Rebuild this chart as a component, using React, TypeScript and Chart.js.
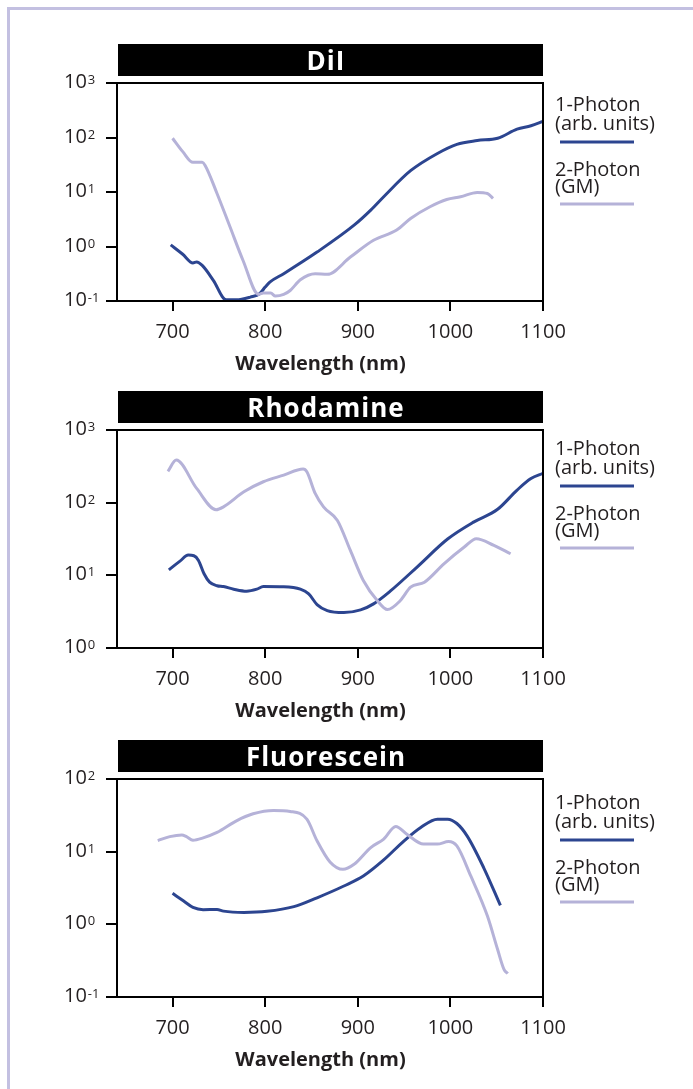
import React, { useEffect, useRef } from "react";
import { Chart, registerables } from "chart.js";

Chart.register(...registerables);

// ---- data ----
const xTicks = [700, 800, 900, 1000, 1100];

const dilOneWl = [698, 711, 722, 726, 732, 744, 758, 769, 784, 794, 800, 805, 820, 856, 896, 914, 928, 957, 986, 1007, 1029, 1051, 1072, 1087, 1100];
const dilOneVal = [1.07, 0.72, 0.5, 0.52, 0.45, 0.24, 0.105, 0.105, 0.118, 0.136, 0.18, 0.222, 0.317, 0.79, 2.46, 4.65, 8.2, 24.6, 51, 75, 88, 97, 142, 164, 197];
const dilTwoWl = [700, 711, 722, 732, 735, 748, 762, 776, 793, 798, 806, 811, 820, 827, 838, 854, 867, 892, 917, 942, 957, 978, 996, 1011, 1029, 1040, 1046];
const dilTwoVal = [97, 55, 35, 35, 31, 9.4, 2.3, 0.56, 0.132, 0.14, 0.14, 0.123, 0.132, 0.156, 0.245, 0.316, 0.308, 0.64, 1.3, 2.0, 3.27, 5.36, 7.3, 8.2, 9.84, 9.4, 7.6];
const dilDecades = [0.1, 1, 10, 100, 1000];

const rhoOneWl = [696, 708, 717, 723, 728, 734, 740, 748, 755, 766, 780, 791, 798, 820, 838, 847, 856, 867, 885, 903, 917, 935, 964, 997, 1025, 1051, 1072, 1087, 1100];
const rhoOneVal = [11.9, 15.7, 19, 18.6, 16, 10.5, 8.05, 7.2, 7.0, 6.45, 6.05, 6.45, 7.0, 6.95, 6.45, 5.56, 3.96, 3.27, 3.07, 3.34, 4.05, 6.05, 13, 31.6, 54, 81, 149, 215, 253];
const rhoTwoWl = [695, 704, 726, 747, 755, 777, 798, 820, 841, 845, 854, 863, 878, 892, 906, 921, 932, 946, 957, 972, 993, 1015, 1028, 1047, 1065];
const rhoTwoVal = [269, 385, 157, 80, 87.6, 141, 194, 239, 290, 266, 134, 87.5, 57, 22, 8.5, 4.5, 3.38, 4.5, 6.87, 8.05, 14.4, 24.5, 31.9, 25.8, 19.8];
const rhoDecades = [1, 10, 100, 1000];

const fluOneWl = [700, 712, 722, 733, 748, 755, 777, 802, 831, 856, 885, 906, 928, 950, 968, 986, 997, 1007, 1018, 1036, 1054];
const fluOneVal = [2.67, 2.09, 1.71, 1.59, 1.6, 1.52, 1.46, 1.51, 1.75, 2.32, 3.37, 4.62, 7.69, 14.1, 21.5, 28, 28, 24.4, 16.5, 6.0, 1.82];
const fluTwoWl = [684, 697, 710, 715, 722, 733, 748, 769, 787, 809, 827, 845, 856, 870, 884, 896, 914, 928, 941, 953, 971, 986, 998, 1007, 1022, 1040, 1051, 1058, 1062];
const fluTwoVal = [14.2, 16.1, 17, 16.1, 14.4, 15.5, 18.4, 26.6, 33.2, 36.9, 35.8, 28, 14.1, 7.22, 5.71, 6.71, 11.4, 14.9, 22.2, 17.4, 12.7, 12.7, 13.8, 12, 4.63, 1.3, 0.45, 0.238, 0.21];
const fluDecades = [0.1, 1, 10, 100];

const legendOne = ["1-Photon", "(arb. units)"];
const legendTwo = ["2-Photon", "(GM)"];
const axisTitle = "Wavelength (nm)";

// ---- style ----
const DARK = "#2c4590";
const LIGHT = "#b5b2d8";
const INK = "#231f20";
const FONT = "'Open Sans', 'Noto Sans', sans-serif";

type PanelProps = {
  title: string;
  oneWl: number[];
  oneVal: number[];
  twoWl: number[];
  twoVal: number[];
  yTicks: number[];
  top: number;
  height: number;
  legendShift: number;
};

function Panel(p: PanelProps) {
  const ref = useRef<HTMLCanvasElement>(null);

  useEffect(() => {
    const canvas = ref.current;
    if (!canvas) return;

    const decor = {
      id: "decor",
      afterDraw(chart: any) {
        const { ctx, chartArea: a, scales } = chart;
        ctx.save();
        // frame
        ctx.strokeStyle = "#000";
        ctx.lineWidth = 2;
        ctx.strokeRect(a.left, a.top, a.right - a.left, a.bottom - a.top);

        // title bar
        const barTop = a.top - 39;
        ctx.fillStyle = "#000";
        ctx.fillRect(a.left + 1, barTop, a.right - a.left - 1, 32);
        ctx.fillStyle = "#fff";
        ctx.font = `bold 26px ${FONT}`;
        ctx.textAlign = "center";
        ctx.textBaseline = "alphabetic";
        try {
          (ctx as any).letterSpacing = "1px";
        } catch (e) {}
        ctx.fillText(p.title, 326, barTop + 26);
        try {
          (ctx as any).letterSpacing = "0px";
        } catch (e) {}

        // y labels 10^n
        ctx.fillStyle = INK;
        ctx.textAlign = "left";
        for (const v of p.yTicks) {
          const y = scales.y.getPixelForValue(v);
          const e = Math.round(Math.log10(v));
          ctx.font = `20px ${FONT}`;
          ctx.fillText("10", 64, y + 5);
          const w = ctx.measureText("10").width;
          ctx.font = `13px ${FONT}`;
          ctx.fillText(String(e), 64 + w + 1, y + 1);
        }

        // x labels
        ctx.font = `20px ${FONT}`;
        ctx.textAlign = "center";
        for (const v of xTicks) {
          const x = scales.x.getPixelForValue(v);
          ctx.fillText(String(v), x, a.bottom + 37);
        }

        // axis title
        ctx.font = `bold 20px ${FONT}`;
        ctx.fillText(axisTitle, 320.5, a.bottom + 69);

        // legend
        const L = a.top + p.legendShift;
        ctx.font = `20px ${FONT}`;
        ctx.textAlign = "left";
        ctx.fillText(legendOne[0], 555, L + 28);
        ctx.fillText(legendOne[1], 555, L + 47);
        ctx.fillText(legendTwo[0], 555, L + 93);
        ctx.fillText(legendTwo[1], 555, L + 110);
        ctx.lineWidth = 3;
        ctx.strokeStyle = DARK;
        ctx.beginPath();
        ctx.moveTo(560, L + 59);
        ctx.lineTo(634, L + 59);
        ctx.stroke();
        ctx.strokeStyle = LIGHT;
        ctx.beginPath();
        ctx.moveTo(560, L + 121);
        ctx.lineTo(634, L + 121);
        ctx.stroke();
        ctx.restore();
      },
    };

    const tickGrid = (len: number) => ({
      drawOnChartArea: false,
      drawTicks: true,
      tickLength: len,
      color: "#000",
      lineWidth: 2,
    });

    const chart = new Chart(canvas, {
      type: "line",
      data: {
        datasets: [
          {
            data: p.oneWl.map((x, i) => ({ x, y: p.oneVal[i] })),
            borderColor: DARK,
            borderWidth: 3,
            pointRadius: 0,
            cubicInterpolationMode: "monotone",
            fill: false,
            order: 1,
          },
          {
            data: p.twoWl.map((x, i) => ({ x, y: p.twoVal[i] })),
            borderColor: LIGHT,
            borderWidth: 3,
            pointRadius: 0,
            cubicInterpolationMode: "monotone",
            fill: false,
            order: 0,
          },
        ],
      },
      options: {
        animation: false,
        responsive: false,
        devicePixelRatio: 1,
        events: [],
        layout: { padding: { top: 83, right: 150, left: 0, bottom: 0 } },
        plugins: { legend: { display: false }, tooltip: { enabled: false } },
        scales: {
          x: {
            type: "linear",
            min: 640,
            max: 1100,
            border: { display: false },
            grid: tickGrid(10),
            ticks: { display: false },
            afterBuildTicks: (s: any) => {
              s.ticks = xTicks.map((v) => ({ value: v }));
            },
            afterFit: (s: any) => {
              s.height = p.height - 301;
            },
          },
          y: {
            type: "logarithmic",
            min: p.yTicks[0],
            max: p.yTicks[p.yTicks.length - 1],
            border: { display: false },
            grid: tickGrid(11),
            ticks: { display: false },
            afterBuildTicks: (s: any) => {
              s.ticks = p.yTicks.map((v) => ({ value: v }));
            },
            afterFit: (s: any) => {
              s.width = 117;
            },
          },
        },
      } as any,
      plugins: [decor],
    });

    return () => chart.destroy();
  }, []);

  return (
    <canvas
      ref={ref}
      width={693}
      height={p.height}
      style={{ position: "absolute", left: 0, top: p.top, width: 693, height: p.height }}
    />
  );
}

export default function App() {
  return (
    <div
      style={{
        position: "absolute",
        left: 0,
        top: 0,
        width: 693,
        height: 1089,
        background: "#fff",
        overflow: "hidden",
      }}
    >
      <div
        style={{
          position: "absolute",
          left: 7,
          top: 7,
          right: 0,
          bottom: 0,
          borderLeft: "3px solid #c3c0e1",
          borderTop: "3px solid #c3c0e1",
        }}
      />
      <Panel title="DiI" oneWl={dilOneWl} oneVal={dilOneVal} twoWl={dilTwoWl} twoVal={dilTwoVal} yTicks={dilDecades} top={0} height={385} legendShift={0} />
      <Panel title="Rhodamine" oneWl={rhoOneWl} oneVal={rhoOneVal} twoWl={rhoTwoWl} twoVal={rhoTwoVal} yTicks={rhoDecades} top={347} height={385} legendShift={-3} />
      <Panel title="Fluorescein" oneWl={fluOneWl} oneVal={fluOneVal} twoWl={fluTwoWl} twoVal={fluTwoVal} yTicks={fluDecades} top={696} height={393} legendShift={2} />
    </div>
  );
}
